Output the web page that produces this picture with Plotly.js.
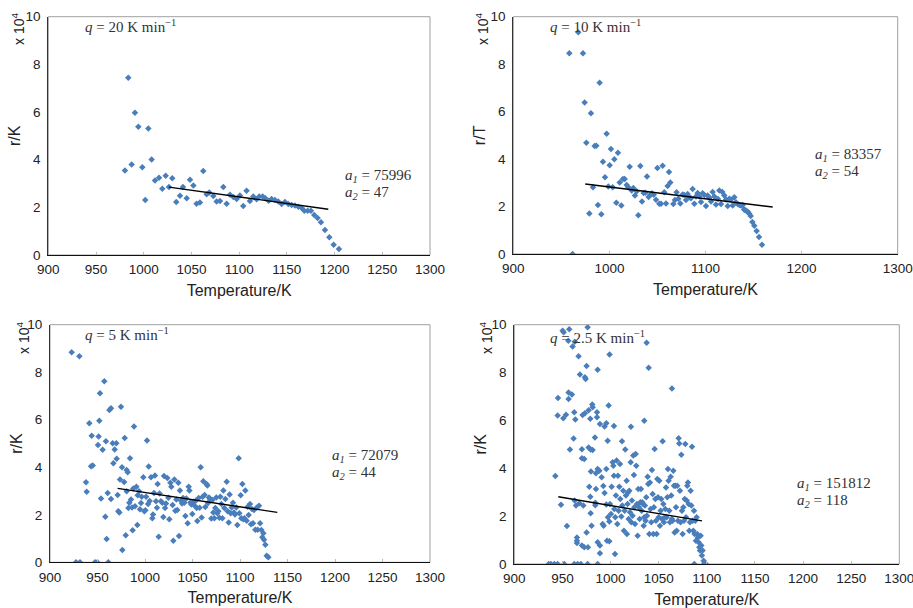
<!DOCTYPE html>
<html><head><meta charset="utf-8">
<script src="https://cdn.plot.ly/plotly-3.0.1.min.js"></script>
<style>html,body{margin:0;padding:0;background:#fff}#chart{width:913px;height:608px}</style>
</head><body><div id="chart"></div>
<script>
// ---- Data (r values in units of 10^4) ----
const T20 = [980.3,983.8,987.3,990.8,994.3,998.5,1001.6,1004.8,1008.3,1011.8,1016,1019.5,1023,1026.4,1029.9,1034.1,1038,1041.1,1045,1048.5,1052,1055.4,1058.9,1062.4,1065.9,1068.7,1072.9,1076.4,1079.9,1083.4,1086.9,1090.4,1093.9,1097.4,1100.8,1104.3,1107.8,1111.3,1114.8,1118.3,1121.1,1124.6,1127.4,1130.9,1134,1137.5,1141,1144.5,1148,1151.5,1155,1158.5,1162,1165.5,1168.3,1171.8,1175.2,1178.7,1182.2,1185.7,1189.9,1194.5,1199,1204.6];
const R20 = [3.55,7.44,3.80,5.97,5.38,3.68,2.31,5.31,4.01,3.13,3.24,2.78,3.33,2.85,3.22,2.22,2.49,2.85,2.38,3.16,2.92,2.15,2.20,3.52,2.55,2.62,2.48,2.25,2.27,2.85,2.15,2.53,2.43,2.35,2.50,2.06,2.70,2.27,2.45,2.34,2.45,2.45,2.38,2.28,2.35,2.31,2.25,2.14,2.22,2.14,2.10,2.08,2.03,1.97,1.86,1.86,1.86,1.68,1.55,1.37,1.05,0.74,0.43,0.25];
const fitT20 = [1026.4, 1193.4];
const fitR20 = [2.85, 1.92];

const T10 = [958.3,961.7,967.6,972.5,974.2,976,979.1,980.8,982.9,984.6,986.4,988.1,989.8,991.6,993.3,995.4,997.1,998.9,1000.3,1001.6,1003.4,1005.1,1007.2,1008.9,1010.7,1012.4,1014.1,1015.9,1018,1019.7,1021.1,1023.2,1024.9,1026.6,1028.4,1030.1,1032.2,1033.9,1035.6,1037.4,1039.1,1040.8,1042.6,1044.3,1046.1,1048.5,1049.9,1051.9,1053.7,1055.4,1057.1,1058.9,1060.6,1062,1063.4,1066.5,1068.2,1069.9,1071.7,1073.8,1076.2,1077.9,1079.7,1081.4,1083.2,1084.9,1086.6,1088.4,1090.1,1091.8,1093.6,1095.3,1097,1098.8,1100.5,1102.2,1104,1105.7,1107.4,1109.2,1110.9,1113,1114.4,1116.1,1117.5,1119.6,1121.3,1123.1,1124.8,1126.5,1128.3,1130,1131.7,1133.5,1135.2,1136.9,1138.7,1140.1,1141.4,1142.8,1144.2,1145.6,1147,1148.7,1150.8,1153.2,1155.7,1158.8];
const R10 = [8.46,0,9.34,8.46,6.38,4.69,1.71,5.93,2.81,4.55,4.56,2.06,7.22,1.67,3.89,3.23,5.07,2.84,3.74,4.42,2.81,3.99,2.16,4.27,3.01,2.04,3.16,3.16,2.91,2.81,3.68,2.68,2.78,2.46,2.64,1.63,3.71,2.21,2.57,2.58,3.27,2.40,2.50,2.56,2.50,2.29,3.62,2.12,2.12,3.72,2.60,2.13,2.87,3.46,3.01,2.11,2.28,2.60,2.33,2.13,2.51,2.49,2.28,2.53,2.39,2.35,2.74,2.12,2.42,2.57,2.42,2.19,2.56,2.49,2.02,2.46,2.37,2.21,2.61,2.42,2.09,2.32,2.68,2.11,2.61,2.46,2.30,2.02,2.33,2.30,2.04,2.39,2.18,2.11,2.06,2.04,2.06,1.88,1.84,1.81,1.77,1.70,1.60,1.35,1.19,0.97,0.72,0.39];
const fitT10 = [974.9, 1169.9];
const fitR10 = [2.95, 1.98];

const T5 = [922.8,930.9,927.4,931.6,947.4,949.8,961.4,938.6,937.9,941.4,943.9,943.2,945,950.5,951.9,952.6,951.2,953.7,955.4,957.2,958.2,958.9,959.6,960.7,962.5,964.2,964.2,966,966.7,968.1,969.8,970.2,971.2,971.9,973,973.7,974.7,976.1,975.8,978,978.6,979.7,980.7,981.8,980.7,982.5,983.5,984.2,985.3,986.3,987,987.7,988.4,989.5,990.9,991.9,992.3,993.7,994.7,995.8,996.5,998.2,999.3,1000.4,1001.1,1002.1,1003.2,1003.9,1004.9,1006.3,1007.7,1008.4,1009.5,1010.5,1011.6,1012.6,1013.3,1014.4,1015.4,1016.8,1018.2,1019.3,1020,1021.1,1022.1,1023.5,1024.6,1025.6,1026.7,1027.7,1029.1,1029.8,1030.9,1031.9,1033,1034,1035.1,1035.8,1036.8,1037.9,1039,1040,1041.4,1042.5,1043.5,1044.9,1046,1046.7,1047.7,1048.8,1049.8,1050.9,1052.3,1053.4,1054.4,1055.1,1056.5,1057.5,1058.6,1059.6,1060.7,1061.4,1062.8,1063.5,1064.9,1065.6,1066.3,1067.4,1068.4,1069.8,1070.9,1071.9,1073,1074,1075.1,1076.1,1077.2,1078.3,1079.3,1080.4,1081.4,1082.5,1083.5,1084.6,1086,1087,1088.1,1089.1,1090.2,1091.2,1092.6,1093.7,1094.7,1096.1,1097.2,1098.6,1099.3,1100.7,1101.4,1102.5,1103.5,1104.6,1105.6,1107,1108.1,1109.1,1110.5,1111.6,1112.6,1113.7,1114.7,1116.1,1117.5,1118.6,1120,1121.1,1122.5,1123.5,1124.6,1125.3,1126.7,1128.1,1129.8];
const R5 = [8.84,8.67,0,0,0,0,0,2.97,3.37,5.85,5.33,4.04,4.07,4.94,5.96,7.11,5.29,2.68,4.74,7.62,1.92,5.09,0.98,2.92,6.41,6.48,2.66,5.01,4.17,4.75,5.01,4.36,2.83,2.15,2.10,3.48,6.55,0.52,4.00,3.38,5.23,1.14,3.88,3.79,2.99,2.29,2.51,4.38,2.64,2.31,1.35,3.11,5.72,2.36,3.18,1.57,2.82,2.99,2.23,2.50,2.76,3.58,2.15,2.19,2.76,5.13,2.45,4.03,2.58,3.58,1.85,2.01,2.92,3.65,2.57,2.30,3.30,1.08,2.90,2.57,2.51,1.91,3.63,2.29,2.48,3.55,2.72,1.81,3.35,3.18,2.41,0.91,3.48,2.17,2.64,2.20,3.35,1.11,3.02,2.59,2.48,2.71,2.51,1.95,2.68,1.64,3.18,3.02,2.52,2.43,2.03,2.55,2.38,2.59,2.29,1.74,2.71,2.30,4.00,1.89,2.76,3.41,2.83,2.33,3.30,3.23,2.50,2.73,2.66,1.84,2.62,2.10,1.85,2.29,2.73,2.06,2.15,1.88,2.76,2.45,1.85,3.02,2.29,2.66,3.39,2.15,1.67,2.85,2.06,2.31,2.51,2.10,2.01,2.31,1.57,4.38,2.06,2.82,1.85,3.30,1.81,1.85,3.02,1.75,2.34,1.99,2.45,1.60,2.24,1.64,2.20,1.37,2.30,1.37,2.38,1.64,1.36,1.05,1.22,0.95,0.74,0.28,0.21];
const fitT5 = [971.2, 1139.3];
const fitR5 = [3.11, 2.10];

const T25 = [935.7,938.1,941.6,945,951.9,962.3,965.8,969.2,976.2,986.6,1087,1097.5,1099,
950.2,951.3,957.1,976.2,956.1,962.8,960.6,966.8,1037.5,999,1039.6,975.1,986.6,968.2,973.4,974.1,1063.8,945.4,956.4,959.9,956.4,945,950.9,953.7,962.3,963.4,971,973.4,977.2,978.9,981,981.4,985.9,985.9,989,993.8,995.6,998,1003.5,1021.2,1035,961.6,957.8,942.6,948.5,954.7,970.3,970.3,972.7,977.2,979.3,981.4,983.8,
979.6,977.9,979,979.3,980.3,975.1,976.5,970.3,972.7,965.1,965.1,965.1,984.1,984.8,986.6,984.8,988.3,986.6,989,989,990.7,992.5,991.8,992.8,993.8,995.6,995.6,996.3,998.7,997,997.3,998.7,999.4,1000.4,1001.1,1002.2,1002.9,1003.5,1003.9,1004.6,1004.9,1005.6,1006.3,1007,1007.7,1008.4,1009.1,1009.8,1010.1,1011.2,1011.9,1012.2,1013.2,1013.9,1014.6,1015.3,1016,1016.7,1017,1017.7,1018.1,1018.8,1019.5,1020.2,1020.9,1021.6,1022.2,1022.9,1023.6,1024.3,1024.7,1025.4,1026.1,1026.7,1027.4,1028.1,1028.8,1029.5,1030.2,1030.9,1031.6,1032.3,1033,1033.7,1034.4,1035,1035.7,1036.4,1037.1,1037.8,1038.5,1039.2,1040.3,1040.9,1041.6,1042.3,1043,1043.7,1044.4,1045.1,1045.8,1046.5,1047.2,1047.9,1048.6,1049.3,1050,1050.6,1051.3,1052,1052.7,1053.4,1054.1,1054.8,1055.5,1056.2,1056.9,1057.6,1058.3,1059,1059.6,1060.3,1061,1061.7,1062.4,1063.1,1063.8,1064.5,1065.2,1065.9,1066.6,1067.3,1068,1068.7,1069.3,1070,1070.7,1071.4,1072.1,1072.8,1073.5,1074.2,1074.9,1075.6,1076.3,1077,1077.7,1078.4,1079.1,1079.7,1080.4,1081.1,1081.8,1082.5,1083.2,1083.9,1084.6,1085.3,1086,1086.7,1087.3,1088,1088.7,1089.4,1090.1,1090.8,1091.5,1092.2,1092.9,1093.6,1094.3,1094.9,1095.6,1096.7,1097.7,
962.7,964.1,967.5,971.7,984.1];
const R25 = [0,0,0,0,0,0,0,0,0,0,0,0,0,
9.75,9.68,9.81,9.89,9.33,9.29,9.09,8.68,9.25,8.75,8.20,8.27,8.12,7.92,7.80,7.73,7.33,6.94,7.17,7.08,6.89,6.21,6.09,6.24,6.34,6.04,6.23,6.30,6.43,6.07,6.67,6.55,6.34,6.13,5.85,5.75,5.88,6.62,5.77,5.74,5.99,5.24,4.78,3.68,2.48,1.59,4.80,4.42,4.39,4.87,4.78,4.76,5.29,
3.87,3.23,2.81,2.12,1.60,1.32,0.70,0.77,0.70,0.97,0.88,1.11,2.45,3.13,3.97,3.79,3.90,0.91,0.77,0.45,3.62,3.26,1.67,1.60,2.97,3.97,2.49,0.97,0.95,5.15,1.95,1.78,2.51,2.09,3.23,4.25,4.11,3.69,2.30,0.42,1.95,2.86,4.32,1.67,3.69,2.23,3.23,4.18,2.72,1.99,5.13,2.44,3.06,1.39,2.23,4.78,2.86,3.48,1.25,2.51,2.99,1.88,3.06,2.16,4.25,1.74,2.65,2.02,4.53,3.72,2.37,1.67,4.60,4.11,2.51,1.18,3.13,2.37,1.88,2.58,3.13,2.23,2.58,2.51,1.60,1.95,2.44,1.81,2.79,2.02,3.65,3.34,1.25,3.41,2.30,1.74,3.93,2.92,1.25,2.37,4.81,2.72,1.81,1.25,3.55,2.79,1.95,3.48,1.60,2.23,2.72,1.88,5.13,2.51,1.74,1.95,2.30,3.20,1.95,2.79,3.97,3.48,2.23,1.74,3.65,2.86,1.88,1.81,3.90,3.27,1.32,3.27,2.37,1.39,3.27,1.81,5.26,5.04,3.06,1.74,4.57,2.23,1.25,2.37,1.81,2.72,5.01,1.95,2.65,3.27,3.41,2.51,1.39,1.74,3.06,2.44,4.90,1.81,1.39,2.23,1.25,1.81,0.97,1.95,1.25,1.11,0.91,0.70,0.56,1.18,0.77,0.35,0.56,0.14,0.04,
2.65,2.44,2.54,2.44,2.56];
const fitT25 = [945.7, 1095.0];
const fitR25 = [2.81, 1.80];

const yTicks = [0,2,4,6,8,10];
const xTicks50 = [900,950,1000,1050,1100,1150,1200,1250,1300];
const xTicks100 = [900,1000,1100,1200,1300];
const rateLabels = ['20','10','5','2.5'];
const a1Labels = ['75996','83357','72079','151812'];
const a2Labels = ['47','54','44','118'];
const yTitles = ['r/K','r/T','r/K','r/K'];

// ---- Layout geometry (pixels) ----
const W = 913, H = 608;
const panels = [
  {l:48.3, r:430,  t:16.7, b:255,  xt:xTicks50,  T:T20, R:R20, fT:fitT20, fR:fitR20, q:[83,26],  a:[343,176], e:[18,29]},
  {l:513.3,r:897.7,t:16.7, b:254,  xt:xTicks100, T:T10, R:R10, fT:fitT10, fR:fitR10, q:[548,26], a:[813,155], e:[482,29]},
  {l:50,   r:430,  t:324.7,b:562.3,xt:xTicks50,  T:T5,  R:R5,  fT:fitT5,  fR:fitR5,  q:[83,334], a:[330,456], e:[23,338]},
  {l:514.3,r:899.3,t:324.7,b:564,  xt:xTicks50,  T:T25, R:R25, fT:fitT25, fR:fitR25, q:[548,337],a:[795,484], e:[486,338]}
];

const data = [];
const layout = {
  width: W, height: H,
  margin: {l:0, r:0, t:0, b:0},
  paper_bgcolor: '#ffffff', plot_bgcolor: '#ffffff',
  showlegend: false,
  font: {family: 'Liberation Sans, Arial, sans-serif', size: 13, color: '#222'},
  shapes: [], annotations: []
};

panels.forEach((p, i) => {
  const n = i === 0 ? '' : String(i + 1);
  const xa = 'x' + n, ya = 'y' + n;
  data.push({
    type: 'scatter', mode: 'markers', x: p.T, y: p.R, xaxis: xa, yaxis: ya,
    marker: {symbol: 'diamond', size: 5, color: '#4a7ebb'}, hoverinfo: 'skip'
  });
  data.push({
    type: 'scatter', mode: 'lines', x: p.fT, y: p.fR, xaxis: xa, yaxis: ya,
    line: {color: '#000000', width: 1.4}, hoverinfo: 'skip'
  });
  layout['xaxis' + n] = {
    domain: [p.l / W, p.r / W], anchor: ya, range: [900, 1300],
    tickmode: 'array', tickvals: p.xt, ticktext: p.xt.map(String),
    showgrid: false, zeroline: false, showline: true, linecolor: '#111', linewidth: 1,
    ticks: 'inside', ticklen: 3, tickcolor: '#bbb', ticklabelstandoff: 2,
    ticklabeloverflow: 'allow',
    tickfont: {size: 13.5, color: '#222'},
    title: {text: 'Temperature/K', font: {size: 16, color: '#222'}, standoff: 8}
  };
  layout['yaxis' + n] = {
    domain: [1 - p.b / H, 1 - p.t / H], anchor: xa, range: [0, 10],
    tickmode: 'array', tickvals: yTicks, ticktext: yTicks.map(String),
    showgrid: false, zeroline: false, showline: true, linecolor: '#333', linewidth: 1,
    ticks: '', ticklabelstandoff: 4, ticklabeloverflow: 'allow',
    tickfont: {size: 13.5, color: '#222'},
    title: {text: yTitles[i], font: {size: 16, color: '#222'}, standoff: 0}
  };
  layout.shapes.push({
    type: 'rect', xref: xa + ' domain', yref: ya + ' domain', x0: 0, x1: 1, y0: 0, y1: 1,
    line: {color: '#a0a0a0', width: 1}, layer: 'below'
  });
  layout.annotations.push({
    xref: 'paper', yref: 'paper', x: p.e[0] / W, y: 1 - p.e[1] / H,
    text: 'x 10<sup>4</sup>', showarrow: false, textangle: -90,
    font: {size: 14, color: '#222'}, xanchor: 'center', yanchor: 'middle'
  });
  layout.annotations.push({
    xref: 'paper', yref: 'paper', x: p.q[0] / W, y: 1 - p.q[1] / H,
    text: '<i>q</i> = ' + rateLabels[i] + ' K min<sup>−1</sup>', showarrow: false,
    font: {family: 'Liberation Serif, Times New Roman, serif', size: 15, color: '#333'},
    xanchor: 'left', yanchor: 'middle'
  });
  layout.annotations.push({
    xref: 'paper', yref: 'paper', x: p.a[0] / W, y: 1 - p.a[1] / H,
    text: '<i>a<sub>1</sub></i> = ' + a1Labels[i], showarrow: false,
    font: {family: 'Liberation Serif, Times New Roman, serif', size: 15, color: '#333'},
    xanchor: 'left', yanchor: 'middle'
  });
  layout.annotations.push({
    xref: 'paper', yref: 'paper', x: p.a[0] / W, y: 1 - (p.a[1] + 17) / H,
    text: '<i>a<sub>2</sub></i> = ' + a2Labels[i], showarrow: false,
    font: {family: 'Liberation Serif, Times New Roman, serif', size: 15, color: '#333'},
    xanchor: 'left', yanchor: 'middle'
  });
});

Plotly.newPlot('chart', data, layout, {staticPlot: true, displayModeBar: false});
</script></body></html>
